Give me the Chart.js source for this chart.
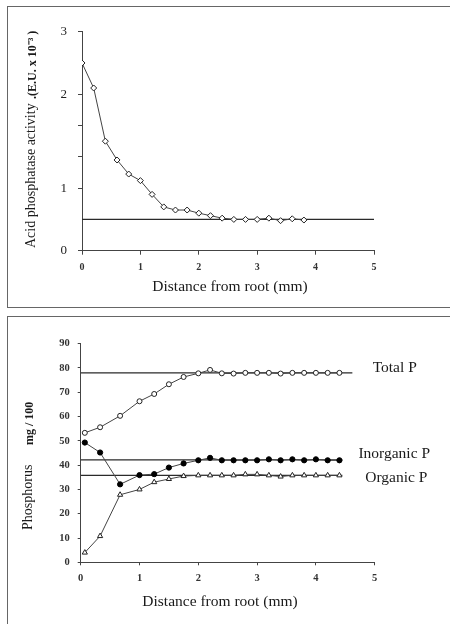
<!DOCTYPE html>
<html><head><meta charset="utf-8">
<script src="https://cdn.jsdelivr.net/npm/chart.js@4.4.0/dist/chart.umd.min.js"></script>
<style>
html,body{margin:0;padding:0;background:#fff;overflow:hidden;width:450px;height:624px;}
.panel{position:absolute;left:0;width:450px;height:312px;}
#p1{top:0}
#p2{top:312px}
.frame{position:absolute;box-sizing:border-box;border:1.5px solid #666;pointer-events:none}
#f1{left:7px;top:6px;width:470px;height:302px;}
#f2{left:7px;top:316px;width:470px;height:400px;}
</style></head>
<body>
<div class="panel" id="p1"><canvas id="c1" width="450" height="312"></canvas></div>
<div class="panel" id="p2"><canvas id="c2" width="450" height="312"></canvas></div>
<div class="frame" id="f1"></div>
<div class="frame" id="f2"></div>
<script>
// ---------- Data: acid phosphatase (top panel) ----------
const acidX = [0, 0.2, 0.4, 0.6, 0.8, 1.0, 1.2, 1.4, 1.6, 1.8, 2.0, 2.2, 2.4, 2.6, 2.8, 3.0, 3.2, 3.4, 3.6, 3.8];
const acidY = [2.5, 2.1, 1.5, 1.3, 1.15, 1.08, 0.9, 0.7, 0.65, 0.65, 0.6, 0.56, 0.52, 0.5, 0.5, 0.5, 0.52, 0.48, 0.51, 0.49];
const acidLevel = 0.5;
const acidLevelSpan = [0, 5];
const acidYTicks = [0, 1, 4/3, 5/3, 2, 3];
const acidYTickLabels = ['0', '1', '', '', '2', '3'];
// value -> relative axis position (the printed axis is not evenly spaced)
const acidYKnots = [[0, 0], [1, 2], [2, 5], [3, 7]];
const xTicks = [0, 1, 2, 3, 4, 5];

// ---------- Data: phosphorus (bottom panel) ----------
const phosX = [0.07, 0.33, 0.67, 1.0, 1.25, 1.5, 1.75, 2.0, 2.2, 2.4, 2.6, 2.8, 3.0, 3.2, 3.4, 3.6, 3.8, 4.0, 4.2, 4.4];
const totalP = [53.3, 55.6, 60.3, 66.3, 69.3, 73.3, 76.3, 77.8, 79.2, 77.8, 77.7, 78, 78, 78, 77.7, 78, 78, 78, 78, 78];
const inorganicP = [49.3, 45.2, 32.1, 35.9, 36.3, 39, 40.7, 42, 43, 42, 42, 42, 42, 42.4, 42, 42.4, 42, 42.4, 42, 42];
const organicP = [4, 10.8, 27.8, 30, 33, 34.3, 35.5, 35.8, 35.8, 35.8, 35.8, 36.2, 36.2, 35.8, 35.3, 35.8, 35.8, 35.8, 35.8, 35.8];
const seriesNames = ['Total P', 'Inorganic P', 'Organic P'];
const levelValues = [78, 42.2, 35.8];
const levelEnds = [4.62, 4.45, 4.45];
const phosYTicks = [0, 10, 20, 30, 40, 50, 60, 70, 80, 90];

const xTitle = 'Distance from root (mm)';
const acidTitle = 'Acid phosphatase activity';
const acidUnit = '.(E.U. x 10\u207B\u00B3 )';
const phosTitle = 'Phosphorus';
const phosUnit = 'mg / 100';

Chart.defaults.font.family = "'Liberation Serif', 'Times New Roman', serif";
Chart.defaults.color = '#222';

class PiecewiseScale extends Chart.LinearScale {
  static id = 'piecewise';
  static defaults = {};
  toPos(v) {
    const k = acidYKnots;
    for (let i = 1; i < k.length; i++) {
      if (v <= k[i][0] || i === k.length - 1) {
        const v0 = k[i-1][0], p0 = k[i-1][1], v1 = k[i][0], p1 = k[i][1];
        return p0 + (v - v0) * (p1 - p0) / (v1 - v0);
      }
    }
  }
  toVal(p) {
    const k = acidYKnots;
    for (let i = 1; i < k.length; i++) {
      if (p <= k[i][1] || i === k.length - 1) {
        const v0 = k[i-1][0], p0 = k[i-1][1], v1 = k[i][0], p1 = k[i][1];
        return v0 + (p - p0) * (v1 - v0) / (p1 - p0);
      }
    }
  }
  determineDataLimits() {
    this.min = acidYKnots[0][1];
    this.max = acidYKnots[acidYKnots.length - 1][1];
  }
  buildTicks() { return acidYTicks.map(v => ({value: v})); }
  getPixelForValue(v) {
    if (v === null || v === undefined) return NaN;
    return super.getPixelForValue(this.toPos(v));
  }
  getValueForPixel(p) { return this.toVal(super.getValueForPixel(p)); }
}
Chart.register(PiecewiseScale);

const textPlugin = {
  id: 'texts',
  afterDraw(chart, args, opts) {
    const ctx = chart.ctx;
    for (const t of (chart.config.options.textItems || [])) {
      ctx.save();
      ctx.fillStyle = t.color || '#1a1a1a';
      ctx.font = t.font;
      ctx.textAlign = t.align || 'left';
      ctx.textBaseline = 'alphabetic';
      ctx.translate(t.x, t.y);
      if (t.rot) ctx.rotate(t.rot);
      ctx.fillText(t.text, 0, 0);
      ctx.restore();
    }
  }
};

function fixW(w) { return function(s) { s.width = w; }; }
function fixH(h) { return function(s) { s.height = h; }; }

const pts = (xs, ys) => xs.map((x, i) => ({x: x, y: ys[i]}));
const seg = (x0, x1, y) => [{x: x0, y: y}, {x: x1, y: y}];

const lineStyle = {showLine: true, borderColor: '#444', borderWidth: 1, tension: 0, pointBorderColor: '#222', pointBorderWidth: 1};
const levelStyle = {showLine: true, borderColor: '#2a2a2a', borderWidth: 1.3, pointRadius: 0, pointHoverRadius: 0};

const axisGrid = (len) => ({display: true, drawOnChartArea: false, drawTicks: true, tickLength: len, color: '#444', lineWidth: 1});
const axisBorder = {display: true, color: '#444', width: 1};

// ---------- Top chart ----------
new Chart(document.getElementById('c1'), {
  type: 'scatter',
  data: {
    datasets: [
      Object.assign({label: acidTitle, data: pts(acidX, acidY), pointStyle: 'rectRot', pointRadius: 3, pointBackgroundColor: '#fff'}, lineStyle),
      Object.assign({label: 'level', data: seg(acidLevelSpan[0], acidLevelSpan[1], acidLevel)}, levelStyle)
    ]
  },
  options: {
    responsive: false, animation: false, events: [],
    layout: {padding: {left: 0, right: 76, top: 31.7, bottom: 41.3}},
    plugins: {legend: {display: false}, tooltip: {enabled: false}},
    scales: {
      x: {type: 'linear', min: 0, max: 5, afterFit: fixH(20),
          afterBuildTicks: s => { s.ticks = xTicks.map(v => ({value: v})); },
          grid: axisGrid(4), border: axisBorder,
          ticks: {padding: 7, font: {size: 10, weight: 'bold'}, color: '#333', maxRotation: 0}},
      y: {type: 'piecewise', position: 'left', afterFit: fixW(82),
          grid: axisGrid(4), border: axisBorder,
          ticks: {padding: 11, font: {size: 13}, color: '#222',
                  callback: v => { const i = acidYTicks.findIndex(t => Math.abs(t - v) < 1e-9); return i >= 0 ? acidYTickLabels[i] : ''; }}}
    },
    textItems: [
      {text: acidTitle, font: '14px "Liberation Serif"', x: 34.5, y: 248, rot: -Math.PI/2},
      {text: acidUnit, font: 'bold 12px "Liberation Serif"', x: 36, y: 99, rot: -Math.PI/2},
      {text: xTitle, font: '15.5px "Liberation Serif"', x: 230, y: 291, align: 'center'}
    ]
  },
  plugins: [textPlugin]
});

// ---------- Bottom chart ----------
new Chart(document.getElementById('c2'), {
  type: 'scatter',
  data: {
    datasets: [
      Object.assign({label: seriesNames[0], data: pts(phosX, totalP), pointStyle: 'circle', pointRadius: 2.5, pointBackgroundColor: '#fff'}, lineStyle),
      Object.assign({label: seriesNames[1], data: pts(phosX, inorganicP), pointStyle: 'circle', pointRadius: 2.6, pointBackgroundColor: '#000'}, lineStyle, {pointBorderColor: '#000'}),
      Object.assign({label: seriesNames[2], data: pts(phosX, organicP), pointStyle: 'triangle', pointRadius: 3, pointBackgroundColor: '#fff'}, lineStyle),
      Object.assign({label: 'level0', data: seg(0, levelEnds[0], levelValues[0])}, levelStyle),
      Object.assign({label: 'level1', data: seg(0, levelEnds[1], levelValues[1])}, levelStyle),
      Object.assign({label: 'level2', data: seg(0, levelEnds[2], levelValues[2])}, levelStyle)
    ]
  },
  options: {
    responsive: false, animation: false, events: [],
    layout: {padding: {left: 0, right: 75.3, top: 31.7, bottom: 41.7}},
    plugins: {legend: {display: false}, tooltip: {enabled: false}},
    scales: {
      x: {type: 'linear', min: 0, max: 5, afterFit: fixH(20),
          afterBuildTicks: s => { s.ticks = xTicks.map(v => ({value: v})); },
          grid: axisGrid(3), border: axisBorder,
          ticks: {padding: 7, font: {size: 10.5, weight: 'bold'}, color: '#333', maxRotation: 0}},
      y: {type: 'linear', min: 0, max: 90, afterFit: fixW(80.7),
          afterBuildTicks: s => { s.ticks = phosYTicks.map(v => ({value: v})); },
          grid: axisGrid(3), border: axisBorder,
          ticks: {padding: 8, font: {size: 10.5, weight: 'bold'}, color: '#333'}}
    },
    textItems: [
      {text: phosTitle, font: '14px "Liberation Serif"', x: 31.5, y: 218, rot: -Math.PI/2},
      {text: phosUnit, font: 'bold 12px "Liberation Serif"', x: 33, y: 133, rot: -Math.PI/2},
      {text: xTitle, font: '15.5px "Liberation Serif"', x: 220, y: 293.5, align: 'center'},
      {text: seriesNames[0], font: '15.5px "Liberation Serif"', x: 394.7, y: 60.3, align: 'center'},
      {text: seriesNames[1], font: '15.5px "Liberation Serif"', x: 394.2, y: 146, align: 'center'},
      {text: seriesNames[2], font: '15.5px "Liberation Serif"', x: 396.3, y: 170.3, align: 'center'}
    ]
  },
  plugins: [textPlugin]
});
</script>
</body></html>
